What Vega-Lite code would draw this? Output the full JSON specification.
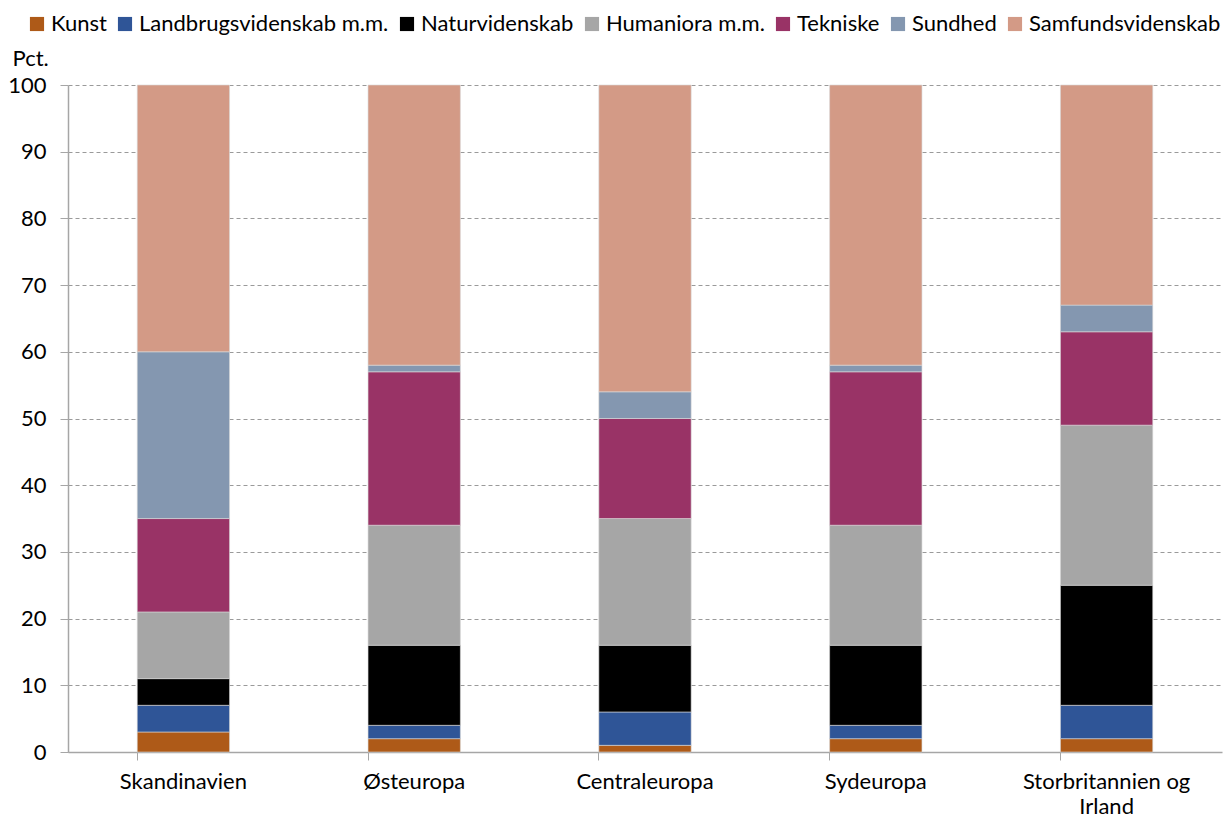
{
  "$schema": "https://vega.github.io/schema/vega-lite/v6.json",
  "width": 1154,
  "height": 667,
  "autosize": {"type": "none"},
  "padding": {"left": 68, "top": 85, "right": 2, "bottom": 67},
  "background": "white",
  "config": {
    "font": "Lato",
    "view": {"stroke": null}
  },
  "data": {
    "values": [
      {"region": "Skandinavien", "felt": "Kunst", "ord": 1, "pct": 3},
      {"region": "Skandinavien", "felt": "Landbrugsvidenskab m.m.", "ord": 2, "pct": 4},
      {"region": "Skandinavien", "felt": "Naturvidenskab", "ord": 3, "pct": 4},
      {"region": "Skandinavien", "felt": "Humaniora m.m.", "ord": 4, "pct": 10},
      {"region": "Skandinavien", "felt": "Tekniske", "ord": 5, "pct": 14},
      {"region": "Skandinavien", "felt": "Sundhed", "ord": 6, "pct": 25},
      {"region": "Skandinavien", "felt": "Samfundsvidenskab", "ord": 7, "pct": 40},
      {"region": "Østeuropa", "felt": "Kunst", "ord": 1, "pct": 2},
      {"region": "Østeuropa", "felt": "Landbrugsvidenskab m.m.", "ord": 2, "pct": 2},
      {"region": "Østeuropa", "felt": "Naturvidenskab", "ord": 3, "pct": 12},
      {"region": "Østeuropa", "felt": "Humaniora m.m.", "ord": 4, "pct": 18},
      {"region": "Østeuropa", "felt": "Tekniske", "ord": 5, "pct": 23},
      {"region": "Østeuropa", "felt": "Sundhed", "ord": 6, "pct": 1},
      {"region": "Østeuropa", "felt": "Samfundsvidenskab", "ord": 7, "pct": 42},
      {"region": "Centraleuropa", "felt": "Kunst", "ord": 1, "pct": 1},
      {"region": "Centraleuropa", "felt": "Landbrugsvidenskab m.m.", "ord": 2, "pct": 5},
      {"region": "Centraleuropa", "felt": "Naturvidenskab", "ord": 3, "pct": 10},
      {"region": "Centraleuropa", "felt": "Humaniora m.m.", "ord": 4, "pct": 19},
      {"region": "Centraleuropa", "felt": "Tekniske", "ord": 5, "pct": 15},
      {"region": "Centraleuropa", "felt": "Sundhed", "ord": 6, "pct": 4},
      {"region": "Centraleuropa", "felt": "Samfundsvidenskab", "ord": 7, "pct": 46},
      {"region": "Sydeuropa", "felt": "Kunst", "ord": 1, "pct": 2},
      {"region": "Sydeuropa", "felt": "Landbrugsvidenskab m.m.", "ord": 2, "pct": 2},
      {"region": "Sydeuropa", "felt": "Naturvidenskab", "ord": 3, "pct": 12},
      {"region": "Sydeuropa", "felt": "Humaniora m.m.", "ord": 4, "pct": 18},
      {"region": "Sydeuropa", "felt": "Tekniske", "ord": 5, "pct": 23},
      {"region": "Sydeuropa", "felt": "Sundhed", "ord": 6, "pct": 1},
      {"region": "Sydeuropa", "felt": "Samfundsvidenskab", "ord": 7, "pct": 42},
      {"region": "Storbritannien og Irland", "felt": "Kunst", "ord": 1, "pct": 2},
      {"region": "Storbritannien og Irland", "felt": "Landbrugsvidenskab m.m.", "ord": 2, "pct": 5},
      {"region": "Storbritannien og Irland", "felt": "Naturvidenskab", "ord": 3, "pct": 18},
      {"region": "Storbritannien og Irland", "felt": "Humaniora m.m.", "ord": 4, "pct": 24},
      {"region": "Storbritannien og Irland", "felt": "Tekniske", "ord": 5, "pct": 14},
      {"region": "Storbritannien og Irland", "felt": "Sundhed", "ord": 6, "pct": 4},
      {"region": "Storbritannien og Irland", "felt": "Samfundsvidenskab", "ord": 7, "pct": 33}
    ]
  },
  "mark": {"type": "bar", "stroke": "#d9d9d9", "strokeWidth": 0.6},
  "encoding": {
    "x": {
      "field": "region",
      "type": "nominal",
      "sort": ["Skandinavien", "Østeuropa", "Centraleuropa", "Sydeuropa", "Storbritannien og Irland"],
      "scale": {"paddingInner": 0.6, "paddingOuter": 0.3},
      "axis": {
        "title": null,
        "labelAngle": 0,
        "labelFontSize": 22,
        "labelColor": "#000000",
        "labelPadding": 11,
        "labelLineHeight": 25,
        "labelExpr": "datum.label == 'Storbritannien og Irland' ? ['Storbritannien og', 'Irland'] : datum.label",
        "bandPosition": 0,
        "ticks": true,
        "tickSize": 8,
        "tickColor": "#a6a6a6",
        "domainColor": "#a6a6a6",
        "domainWidth": 1.5
      }
    },
    "y": {
      "field": "pct",
      "type": "quantitative",
      "stack": "zero",
      "scale": {"domain": [0, 100], "nice": false},
      "axis": {
        "title": "Pct.",
        "titleAngle": 0,
        "titleAlign": "left",
        "titleBaseline": "middle",
        "titleX": -56,
        "titleY": -27,
        "titleFontSize": 22,
        "titleFontWeight": "normal",
        "titleColor": "#000000",
        "values": [0, 10, 20, 30, 40, 50, 60, 70, 80, 90, 100],
        "labelFontSize": 22,
        "labelColor": "#000000",
        "labelPadding": 14,
        "tickSize": 8,
        "tickColor": "#a6a6a6",
        "domainColor": "#a6a6a6",
        "domainWidth": 1.5,
        "grid": true,
        "gridColor": "#9a9a9a",
        "gridDash": [4, 3],
        "gridWidth": 1
      }
    },
    "color": {
      "field": "felt",
      "type": "nominal",
      "scale": {
        "domain": ["Kunst", "Landbrugsvidenskab m.m.", "Naturvidenskab", "Humaniora m.m.", "Tekniske", "Sundhed", "Samfundsvidenskab"],
        "range": ["#ae5a18", "#2f5597", "#000000", "#a6a6a6", "#993366", "#8497b0", "#d39a86"]
      },
      "legend": {
        "title": null,
        "orient": "none",
        "direction": "horizontal",
        "legendX": -42,
        "legendY": -72,
        "symbolType": "square",
        "symbolSize": 200,
        "symbolStrokeWidth": 0,
        "labelFontSize": 22,
        "labelLimit": 0,
        "labelColor": "#000000",
        "labelOffset": 3,
        "columnPadding": 7,
        "columns": 7
      }
    },
    "order": {"field": "ord", "type": "quantitative"}
  }
}
